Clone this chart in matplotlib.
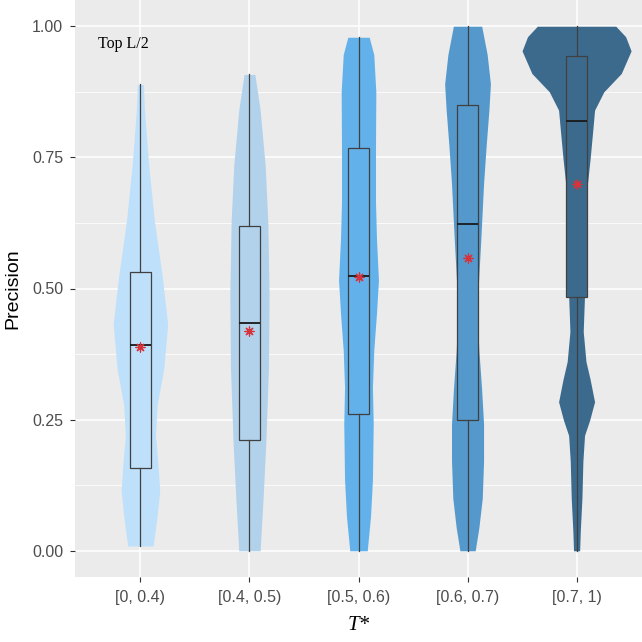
import numpy as np
import matplotlib
matplotlib.use("Agg")
import matplotlib.pyplot as plt

categories = ["[0, 0.4)", "[0.4, 0.5)", "[0.5, 0.6)", "[0.6, 0.7)", "[0.7, 1)"]
colors = ["#BFE0FB", "#B2D2EC", "#63B1EA", "#5599CC", "#3C6A8D"]

# violin outline: precision level -> half width (in category units)
v1_y = [0.009, 0.065, 0.115, 0.171, 0.22, 0.277, 0.347, 0.432, 0.523, 0.629, 0.735, 0.84, 0.889]
v1_w = [0.116, 0.153, 0.177, 0.159, 0.138, 0.153, 0.214, 0.25, 0.2, 0.128, 0.076, 0.037, 0.028]

v2_y = [0.0, 0.10, 0.206, 0.347, 0.488, 0.629, 0.735, 0.84, 0.908]
v2_w = [0.098, 0.125, 0.15, 0.174, 0.18, 0.168, 0.144, 0.098, 0.05]

v3_y = [0.0, 0.065, 0.136, 0.242, 0.312, 0.382, 0.453, 0.516, 0.594, 0.664, 0.77, 0.875, 0.946, 0.979]
v3_w = [0.08, 0.11, 0.128, 0.135, 0.128, 0.14, 0.165, 0.183, 0.165, 0.156, 0.156, 0.159, 0.14, 0.098]

v4_y = [0.0, 0.044, 0.10, 0.171, 0.242, 0.312, 0.382, 0.453, 0.502, 0.594, 0.70, 0.77, 0.84, 0.89, 0.946, 1.0]
v4_w = [0.07, 0.104, 0.135, 0.147, 0.147, 0.128, 0.104, 0.089, 0.098, 0.122, 0.147, 0.17, 0.196, 0.21, 0.18, 0.13]

v5_y = [0.0, 0.037, 0.10, 0.171, 0.22, 0.249, 0.284, 0.326, 0.361, 0.418, 0.488, 0.63, 0.70,
        0.749, 0.805, 0.84, 0.875, 0.91, 0.953, 0.98, 1.0]
v5_w = [0.028, 0.034, 0.049, 0.058, 0.073, 0.12, 0.165, 0.125, 0.086, 0.061, 0.073, 0.086, 0.10,
        0.125, 0.15, 0.165, 0.25, 0.41, 0.50, 0.45, 0.36]

# box plot stats
q1 = [0.157, 0.211, 0.26, 0.25, 0.484]
med = [0.392, 0.434, 0.523, 0.6225, 0.819]
q3 = [0.531, 0.619, 0.767, 0.85, 0.944]
whislo = [0.009, 0.0, 0.0, 0.0, 0.0]
whishi = [0.889, 0.908, 0.979, 1.0, 1.0]
means = [0.388, 0.419, 0.522, 0.558, 0.70]

violins = [(v1_y, v1_w), (v2_y, v2_w), (v3_y, v3_w), (v4_y, v4_w), (v5_y, v5_w)]

fig = plt.figure(figsize=(6.42, 6.42), dpi=100)
ax = fig.add_axes([75/642, 65/642, 567/642, 577/642])
ax.set_facecolor("#EBEBEB")

pos = np.arange(1, len(categories) + 1)

for i, (vy, vw) in enumerate(violins):
    vy = np.array(vy)
    vw = np.array(vw)
    ax.fill_betweenx(vy, pos[i] - vw, pos[i] + vw, color=colors[i], lw=0, zorder=2)

stats = []
for i in range(len(categories)):
    stats.append(dict(q1=q1[i], med=med[i], q3=q3[i], whislo=whislo[i], whishi=whishi[i], fliers=[]))

bp = ax.bxp(stats, positions=pos, widths=0.2, patch_artist=True, showcaps=False,
            showfliers=False, manage_ticks=False,
            boxprops=dict(edgecolor="#404040", linewidth=0.9),
            whiskerprops=dict(color="#404040", linewidth=0.9),
            medianprops=dict(color="#1a1a1a", linewidth=1.3))
for i, b in enumerate(bp["boxes"]):
    b.set_facecolor(colors[i])
    b.set_zorder(3)
for w in bp["whiskers"]:
    w.set_zorder(3)
for m in bp["medians"]:
    m.set_zorder(4)

ax.scatter(pos, means, marker=(8, 2, 0), s=42, color="#D6333A", linewidths=0.9, zorder=5)

ax.set_xlim(0.4, 5.6)
ax.set_ylim(-0.05, 1.05)
ax.set_xticks(pos)
ax.set_xticklabels(categories)
ax.set_yticks([0, 0.25, 0.5, 0.75, 1.0])
ax.set_yticklabels(["0.00", "0.25", "0.50", "0.75", "1.00"])
ax.set_yticks([0.125, 0.375, 0.625, 0.875], minor=True)

ax.grid(True, which="major", color="white", linewidth=1.1, zorder=0)
ax.grid(True, which="minor", axis="y", color="white", linewidth=0.55, zorder=0)
ax.set_axisbelow(True)
for s in ax.spines.values():
    s.set_visible(False)

ax.tick_params(axis="both", which="major", length=3.5, width=0.8, color="#333333",
               labelsize=11.5, labelcolor="#4D4D4D", labelfontfamily="Liberation Sans")
ax.tick_params(axis="x", which="major", pad=6)
ax.tick_params(axis="y", which="major", pad=5)
ax.tick_params(axis="y", which="minor", length=0)

ax.set_ylabel("Precision", fontsize=14, family="Liberation Sans", labelpad=8)
ax.set_xlabel("T*", fontsize=15, family="Liberation Serif", style="italic", labelpad=8)

ax.text(0.84, 0.966, "Top L/2", fontsize=11.5, family="Liberation Serif", ha="center", va="center")

fig.savefig("out.png", dpi=100)
